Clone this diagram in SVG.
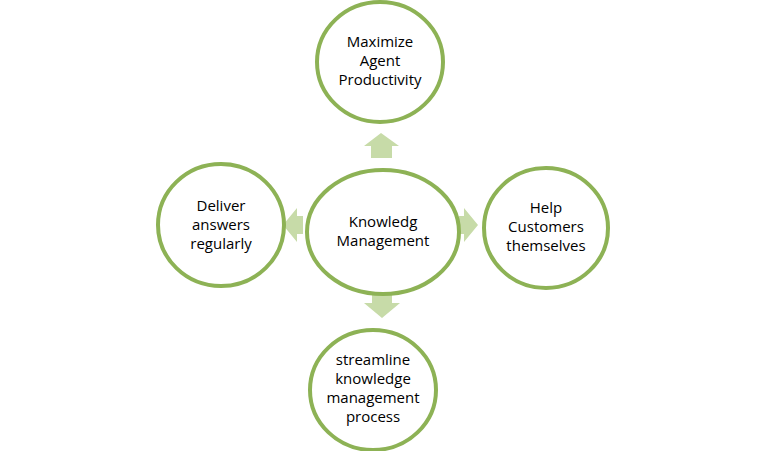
<svg xmlns="http://www.w3.org/2000/svg" width="768" height="451" viewBox="0 0 768 451">
<style>
.n{fill:#fff;stroke:#8db255;stroke-width:4}
.a{fill:#c7dba8}
text{font-family:"Open Sans","Liberation Sans",sans-serif;font-size:15px;fill:#000;text-anchor:middle}
</style>
<rect width="768" height="451" fill="#fff"/>
<g id="connectors">
<polygon class="a" points="381,133 399,146 392,146 392,158 371,158 371,146 364,146"/>
<polygon class="a" points="283,225 297,208 297,216 303,216 303,234 297,234 297,242"/>
<polygon class="a" points="478,225 464,208 464,216 459,216 459,234 464,234 464,242"/>
<polygon class="a" points="382,318 400,303 392,303 392,291 372,291 372,303 364,303"/>
</g>
<g id="center"><ellipse class="n" cx="383" cy="232" rx="76" ry="62"/><text x="383" y="227">Knowledg</text><text x="383" y="246">Management</text></g>
<g id="top"><ellipse class="n" cx="380" cy="62" rx="63" ry="60"/><text x="380" y="47">Maximize</text><text x="380" y="66">Agent</text><text x="380" y="85">Productivity</text></g>
<g id="left"><ellipse class="n" cx="221" cy="225" rx="63" ry="61"/><text x="221" y="211">Deliver</text><text x="221" y="230">answers</text><text x="221" y="249">regularly</text></g>
<g id="right"><ellipse class="n" cx="546" cy="228" rx="62" ry="60"/><text x="546" y="213">Help</text><text x="546" y="232">Customers</text><text x="546" y="251">themselves</text></g>
<g id="bottom"><ellipse class="n" cx="373" cy="390" rx="63" ry="60"/><text x="373" y="365">streamline</text><text x="373" y="384">knowledge</text><text x="373" y="403">management</text><text x="373" y="422">process</text></g>
</svg>
